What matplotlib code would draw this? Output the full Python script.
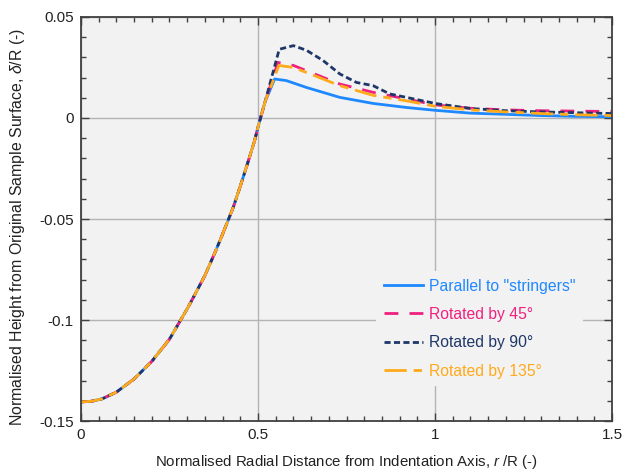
import matplotlib
matplotlib.use("Agg")
import matplotlib.pyplot as plt
from matplotlib.ticker import MultipleLocator, FuncFormatter

plt.rcParams["font.family"] = ["Liberation Sans", "DejaVu Sans"]
plt.rcParams["mathtext.fontset"] = "custom"
plt.rcParams["mathtext.it"] = "Liberation Sans:italic"
plt.rcParams["mathtext.rm"] = "Liberation Sans"

# ── data ────────────────────────────────────────────────────────
# common bowl part of the profile
r_bowl = [0, 0.03, 0.06, 0.1, 0.15, 0.2, 0.25, 0.28, 0.3, 0.32, 0.35, 0.38, 0.4, 0.43,
          0.45, 0.47, 0.49, 0.5, 0.52]
h_bowl = [-0.1405, -0.1402, -0.139, -0.1357, -0.1292, -0.1205, -0.1095, -0.1005,
          -0.0945, -0.088, -0.078, -0.066, -0.0575, -0.0443, -0.0338, -0.0228,
          -0.0115, -0.0045, 0.008]

r_par = [0.547, 0.58, 0.637, 0.731, 0.825, 0.919, 1.0, 1.1, 1.2, 1.3, 1.4, 1.5]
h_par = [0.0193, 0.0185, 0.0151, 0.0102, 0.0072, 0.0052, 0.0038, 0.0024, 0.0018, 0.0012, 0.0008, 0.0006]

r_45 = [0.556, 0.6, 0.637, 0.731, 0.825, 0.919, 1.0, 1.1, 1.2, 1.3, 1.4, 1.5]
h_45 = [0.0275, 0.026, 0.0234, 0.0168, 0.0127, 0.0094, 0.0065, 0.0048, 0.004, 0.0036, 0.0034, 0.0032]

r_90 = [0.56, 0.6, 0.637, 0.684, 0.731, 0.778, 0.825, 0.872, 0.919, 1.0, 1.1, 1.2, 1.3, 1.4, 1.5]
h_90 = [0.034, 0.0358, 0.0335, 0.0284, 0.0218, 0.0176, 0.016, 0.0119, 0.0102, 0.0072,
        0.0047, 0.0036, 0.003, 0.0026, 0.0022]

r_135 = [0.559, 0.6, 0.637, 0.731, 0.825, 0.919, 1.0, 1.1, 1.2, 1.3, 1.4, 1.5]
h_135 = [0.026, 0.025, 0.0225, 0.016, 0.0112, 0.0085, 0.0058, 0.004, 0.003, 0.0022, 0.0016, 0.0012]

labels = ['Parallel to "stringers"', "Rotated by 45°", "Rotated by 90°", "Rotated by 135°"]
colors = ["#1e88ff", "#f0207f", "#1f3768", "#ffaa1a"]

# ── figure ───────────────────────────────────────────────────────
fig = plt.figure(figsize=(6.37, 4.71), dpi=100, facecolor="white")
ax = fig.add_axes([0.127, 0.106, 0.834, 0.858])
ax.set_facecolor("#f2f2f2")

series = [(r_par, h_par, "-", None),
          (r_45, h_45, "--", (5, 4)),
          (r_90, h_90, "--", (2.2, 1.2)),
          (r_135, h_135, "--", (8, 2.5, 3, 2.5))]
for (rs, hs, ls, dash), lab, col in zip(series, labels, colors):
    kw = {} if dash is None else {"dashes": dash}
    ax.plot(r_bowl + rs, h_bowl + hs, ls, color=col, lw=2, label=lab, **kw)

ax.set_xlim(0, 1.5)
ax.set_ylim(-0.15, 0.05)
ax.xaxis.set_major_locator(MultipleLocator(0.5))
ax.xaxis.set_minor_locator(MultipleLocator(0.05))
ax.yaxis.set_major_locator(MultipleLocator(0.05))
ax.yaxis.set_minor_locator(MultipleLocator(0.01))
fmt = FuncFormatter(lambda v, p: f"{v:g}".replace("−", "-"))
ax.xaxis.set_major_formatter(fmt)
ax.yaxis.set_major_formatter(fmt)
ax.grid(True, which="major", color="#b4b4b4", lw=1)
ax.set_axisbelow(True)

ax.tick_params(which="both", direction="in", top=True, right=True, color="#404040")
ax.tick_params(which="major", length=6, width=1, labelsize=11, pad=5, labelcolor="#222222")
ax.tick_params(which="minor", length=3.5, width=1)
for s in ax.spines.values():
    s.set_color("#404040")
    s.set_linewidth(1.3)

ax.set_xlabel(r"Normalised Radial Distance from Indentation Axis, $r$ /R (-)",
              fontsize=10.8, color="#222222", labelpad=8)
ax.set_ylabel(r"Normalised Height from Original Sample Surface, $\delta$/R (-)",
              fontsize=11.4, color="#222222")
ax.yaxis.set_label_coords(-0.101, 0.48)

leg = ax.legend(loc="upper left", bbox_to_anchor=(0.555, 0.372), frameon=True,
                fontsize=11.3, handlelength=2.5, handletextpad=0.4,
                labelspacing=0.85, borderpad=0.5, borderaxespad=0)
leg.get_frame().set_facecolor("#f2f2f2")
leg.get_frame().set_edgecolor("none")
leg.get_frame().set_alpha(1)
for txt, col in zip(leg.get_texts(), colors):
    txt.set_color(col)

fig.savefig("out.png", dpi=100, facecolor="white")
